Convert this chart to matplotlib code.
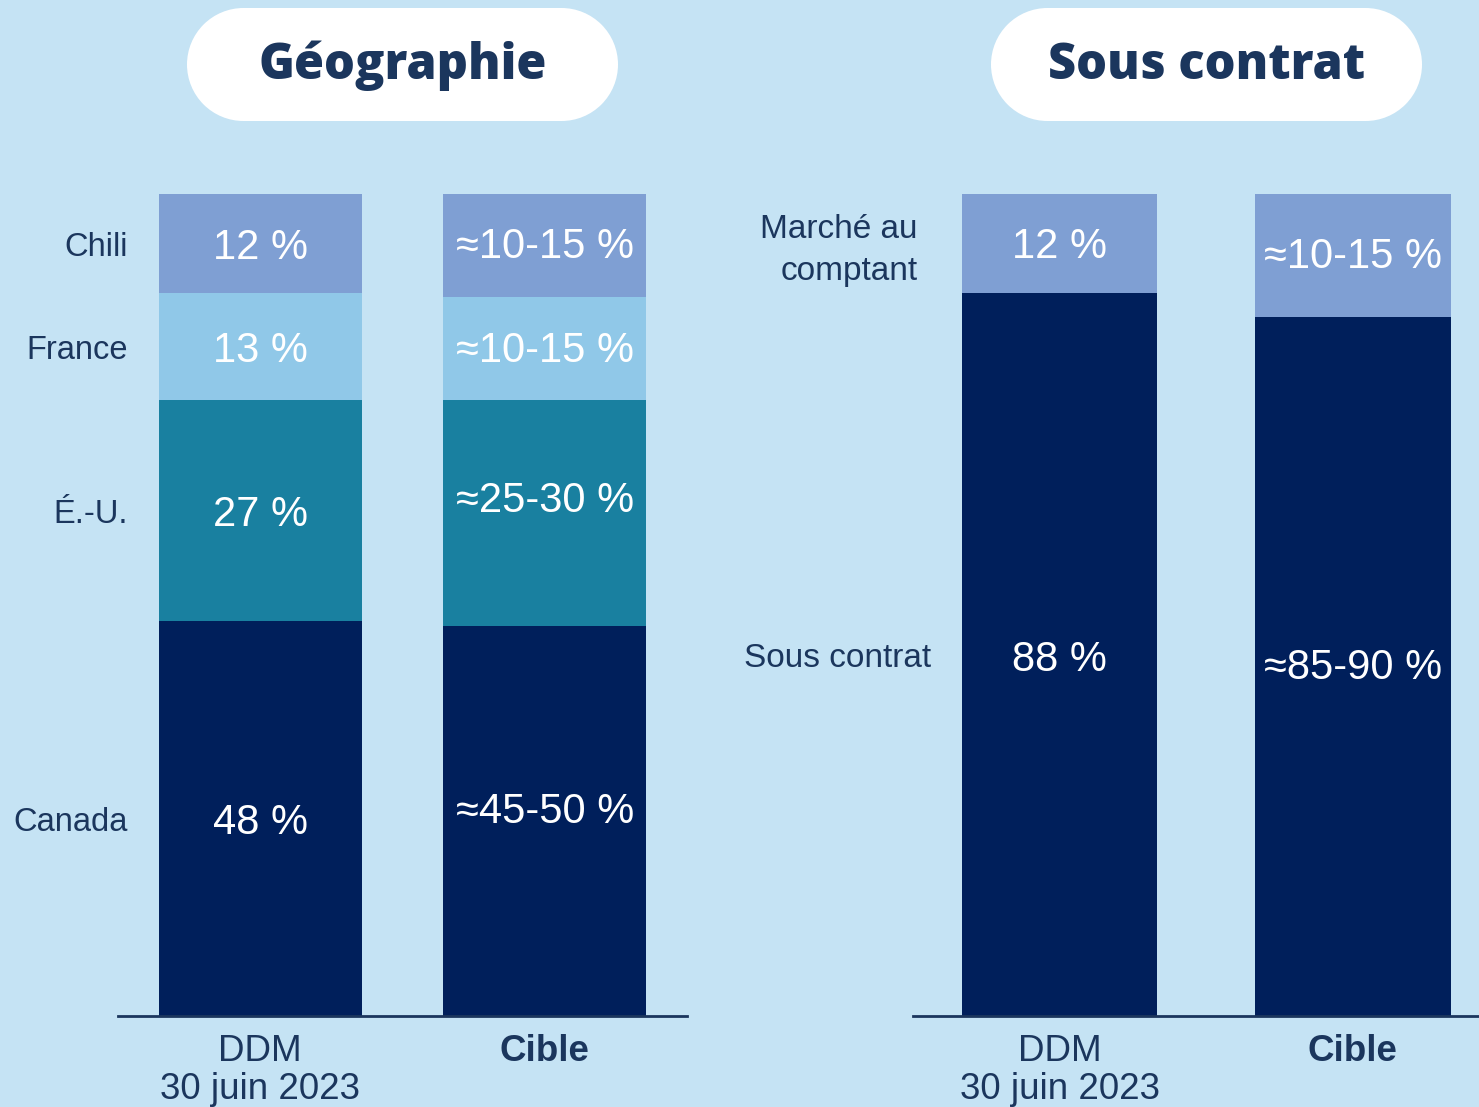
import matplotlib.pyplot as plt
from matplotlib.patches import Rectangle, Circle
from matplotlib.transforms import offset_copy

bg = '#C5E3F4'
navy = '#001F5B'
txt = '#1B365D'

# Géographie
geo_cols = ['DDM\n30 juin 2023', 'Cible']
geo_regions = ['Canada', 'É.-U.', 'France', 'Chili']
geo_ddm = [48, 27, 13, 12]
geo_cible = [47.5, 27.5, 12.5, 12.5]
geo_ddm_lbl = ['48 %', '27 %', '13 %', '12 %']
geo_cible_lbl = ['≈45-50 %', '≈25-30 %', '≈10-15 %', '≈10-15 %']
geo_colors = [navy, '#1980A0', '#90C8E8', '#7F9FD3']

# Sous contrat
con_cols = ['DDM\n30 juin 2023', 'Cible']
con_cats = ['Sous contrat', 'Marché au\ncomptant']
con_ddm = [88, 12]
con_cible = [85, 15]
con_ddm_lbl = ['88 %', '12 %']
con_cible_lbl = ['≈85-90 %', '≈10-15 %']
con_colors = [navy, '#7F9FD3']

plt.rcParams['font.family'] = ['Liberation Sans', 'DejaVu Sans']

W, H = 1479, 1107
fig = plt.figure(figsize=(W / 100, H / 100), dpi=100, facecolor=bg)


def stacked(ax, series, labels, colors, width, cols, nudges):
    for i, (vals, lbls) in enumerate(zip(series, labels)):
        bottom = 0
        for k, (v, l, c) in enumerate(zip(vals, lbls, colors)):
            ax.bar(i, v, width, bottom=bottom, color=c, linewidth=0)
            # labels sit a little off the exact segment centre
            tr = offset_copy(ax.transData, fig=fig, y=nudges[i][k], units='dots')
            ax.text(i, bottom + v / 2, l, ha='center', va='center',
                    color='white', fontsize=30, transform=tr)
            bottom += v
    ax.set_ylim(0, 100)
    ax.set_facecolor('none')
    for s in ['top', 'left', 'right']:
        ax.spines[s].set_visible(False)
    ax.spines['bottom'].set_color(txt)
    ax.spines['bottom'].set_linewidth(2)
    ax.set_yticks([])
    ax.set_xticks(range(len(cols)), cols)
    ax.tick_params(axis='x', length=0, pad=13, labelsize=26.5,
                   labelcolor=txt)
    labs = ax.get_xticklabels()
    labs[1].set_fontweight('bold')
    labs[0].set_linespacing(1.12)


# left panel
ax1 = fig.add_axes([118 / W, 91 / H, 569 / W, 822 / H])
stacked(ax1, [geo_ddm, geo_cible], [geo_ddm_lbl, geo_cible_lbl],
        geo_colors, 0.715, geo_cols,
        [[-4, -5, -5, -5], [9, 12, -3, -2]])
ax1.set_xlim(-0.5, 1.5)
lab_tr = offset_copy(ax1.transData, fig=fig, y=-4, units='dots')
bottom = 0
for v, name in zip(geo_ddm, geo_regions):
    ax1.text(-0.465, bottom + v / 2, name, ha='right', va='center',
             color=txt, fontsize=23.5, transform=lab_tr)
    bottom += v

# right panel
ax2 = fig.add_axes([913 / W, 91 / H, 566 / W, 822 / H])
stacked(ax2, [con_ddm, con_cible], [con_ddm_lbl, con_cible_lbl],
        con_colors, 0.666, con_cols,
        [[-6, -4], [-1, -1]])
ax2.set_xlim(-0.5, 1.43)
lab_tr2 = offset_copy(ax2.transData, fig=fig, y=-4, units='dots')
ax2.text(-0.439, con_ddm[0] / 2, con_cats[0], ha='right', va='center',
         color=txt, fontsize=24, transform=lab_tr2)
ax2.text(-0.483, con_ddm[0] + con_ddm[1] / 2, con_cats[1], ha='right',
         va='center', color=txt, fontsize=24, multialignment='right',
         linespacing=1.45,
         transform=offset_copy(ax2.transData, fig=fig, y=-7, units='dots'))

# title pills (rect + two half circles)
ov = fig.add_axes([0, 0, 1, 1])
ov.set_xlim(0, W)
ov.set_ylim(H, 0)
ov.axis('off')
ov.set_facecolor('none')
r = 56.5
for x0, title in [(187, 'Géographie'), (991, 'Sous contrat')]:
    ov.add_patch(Rectangle((x0 + r, 8), 431 - 2 * r, 2 * r, fc='white', ec='none'))
    ov.add_patch(Circle((x0 + r, 8 + r), r, fc='white', ec='none'))
    ov.add_patch(Circle((x0 + 431 - r, 8 + r), r, fc='white', ec='none'))
    ov.text(x0 + 215.5, 66, title, ha='center', va='center', color=txt,
            fontsize=35, fontweight='heavy', family='Open Sans')

fig.savefig('out.png', dpi=100, facecolor=bg)
